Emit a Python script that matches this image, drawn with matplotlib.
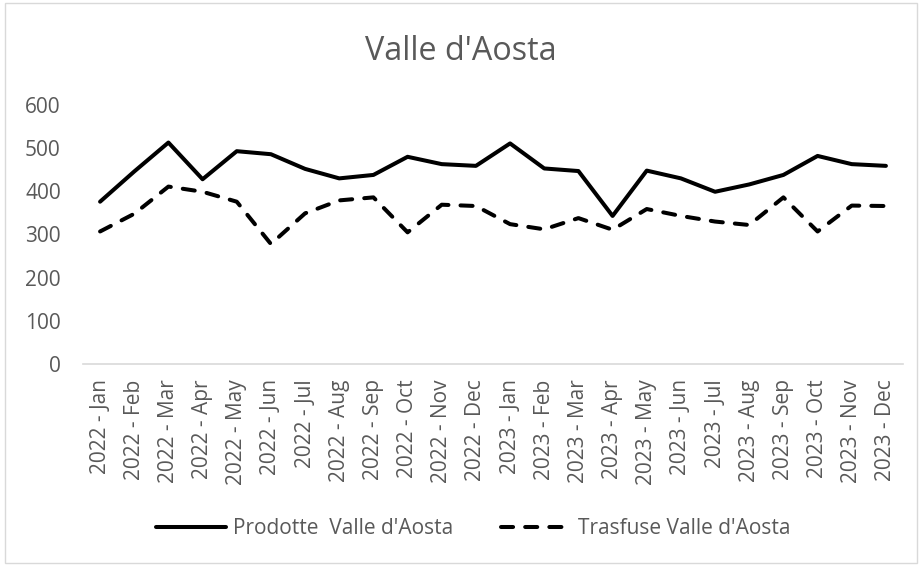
import numpy as np
import matplotlib
matplotlib.use("Agg")
import matplotlib.pyplot as plt
from matplotlib.patches import Rectangle

MONTHS = ["Jan", "Feb", "Mar", "Apr", "May", "Jun",
          "Jul", "Aug", "Sep", "Oct", "Nov", "Dec"]
labels = [f"{y} - {m}" for y in (2022, 2023) for m in MONTHS]

prodotte = [376, 446, 513, 428, 493, 486, 452, 430, 438, 480, 463, 459,
            511, 453, 447, 343, 448, 430, 399, 416, 438, 482, 463, 459]
trasfuse = [307, 348, 411, 399, 376, 278, 349, 379, 386, 305, 369, 366,
            324, 312, 338, 311, 359, 343, 330, 322, 386, 307, 367, 366]

plt.rcParams["font.family"] = ["Open Sans", "DejaVu Sans"]
GREY = "#595959"

fig = plt.figure(figsize=(9.22, 5.67), dpi=100)
ax = fig.add_axes([83/922, 1 - 364/567, 820/922, 259/567])

x = np.arange(len(labels))
ax.plot(x, prodotte, color="black", lw=2.9, solid_joinstyle="round",
        solid_capstyle="round", label="Prodotte  Valle d'Aosta")
ax.plot(x, trasfuse, color="black", lw=2.9, ls=(0, (3.0, 3.0)),
        dash_capstyle="round", dash_joinstyle="round",
        label="Trasfuse Valle d'Aosta")

ax.set_xlim(-0.5, len(labels) - 0.5)
ax.set_ylim(0, 600)
ax.set_yticks(range(0, 601, 100))
ax.set_xticks(x)
ax.set_xticklabels(labels, rotation=90, fontsize=15, color=GREY)
ax.tick_params(axis="y", labelsize=15, colors=GREY, length=0, pad=16)
ax.tick_params(axis="x", length=0, pad=11)
for s in ("top", "right", "left"):
    ax.spines[s].set_visible(False)
ax.spines["bottom"].set_color("#d9d9d9")
ax.spines["bottom"].set_linewidth(1.2)

fig.text(0.5, 1 - 51/567, "Valle d'Aosta", ha="center", va="center",
         fontsize=23.3, color=GREY)

leg = fig.legend(loc="center", bbox_to_anchor=(0.513, 1 - 529/567), ncol=2,
                 frameon=False, fontsize=15, handlelength=3.4,
                 columnspacing=2.3, handletextpad=0.3)
for t in leg.get_texts():
    t.set_color(GREY)

fig.patches.append(Rectangle((5/922, 4/567), 912/922, 560/567,
                             transform=fig.transFigure, fill=False,
                             edgecolor="#d9d9d9", lw=1))

fig.savefig("out.png", dpi=100)
